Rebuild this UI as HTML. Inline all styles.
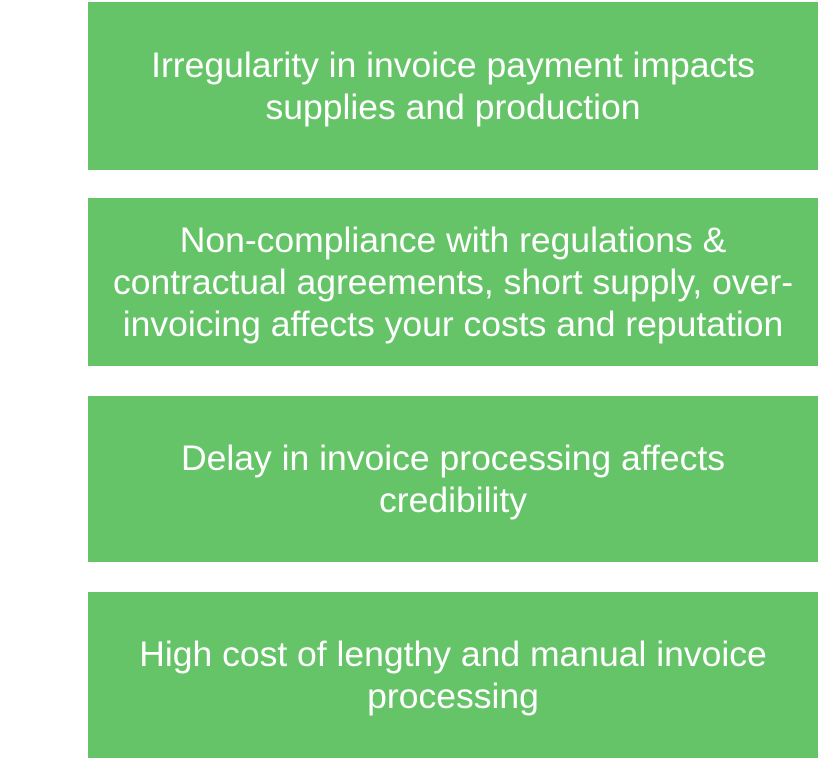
<!DOCTYPE html>
<html><head><style>
body{margin:0;width:820px;height:760px;background:#fff;position:relative;overflow:hidden;font-family:"Liberation Sans",Arial,sans-serif;}
.b{position:absolute;left:88px;width:730px;background:#64c467;color:#fff;display:flex;align-items:center;justify-content:center;text-align:center;font-size:35.5px;line-height:42px;box-sizing:border-box;padding:0 4px;white-space:nowrap;}
</style></head><body>
<div class="b" style="top:2px;height:168px">Irregularity in invoice payment impacts<br>supplies and production</div>
<div class="b" style="top:198px;height:168px">Non-compliance with regulations &amp;<br>contractual agreements, short supply, over-<br>invoicing affects your costs and reputation</div>
<div class="b" style="top:396px;height:166px">Delay in invoice processing affects<br>credibility</div>
<div class="b" style="top:592px;height:166px">High cost of lengthy and manual invoice<br>processing</div>
</body></html>
